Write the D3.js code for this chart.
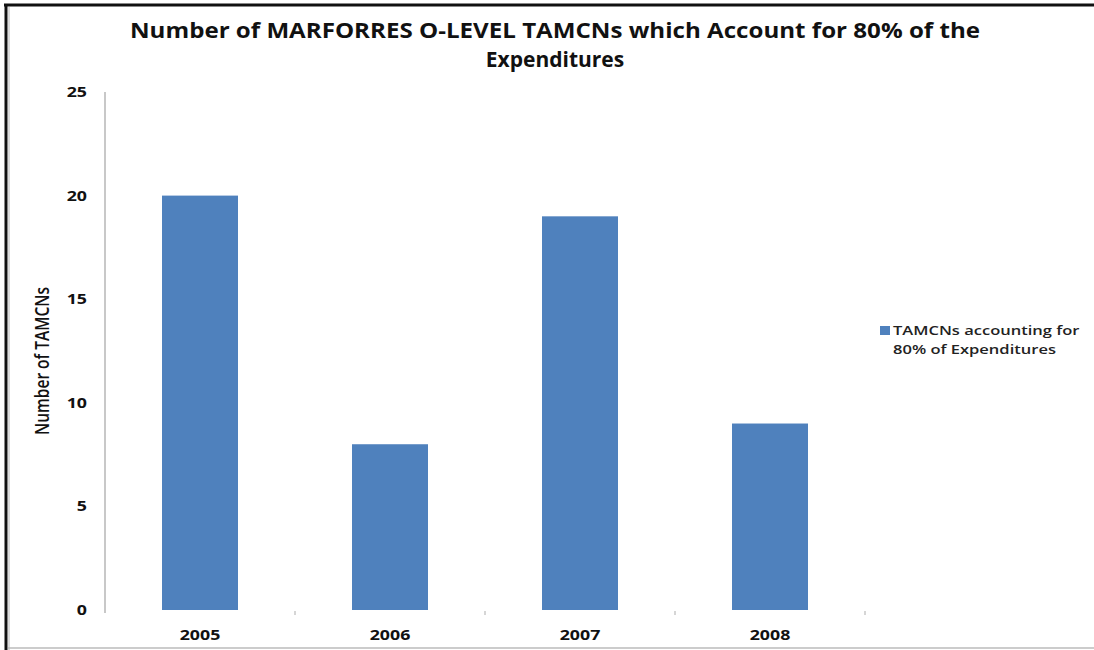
<!DOCTYPE html>
<html>
<head>
<meta charset="utf-8">
<script src="https://cdn.jsdelivr.net/npm/d3@7"></script>
<style>
  html, body { margin: 0; padding: 0; background: #fff; }
  svg { display: block; }
</style>
</head>
<body>
<svg id="chart" width="1094" height="650"></svg>
<script>
// Data
const years = ["2005", "2006", "2007", "2008"];
const tamcnCounts = [20, 8, 19, 9];
const yTicks = [0, 5, 10, 15, 20, 25];
const seriesName = ["TAMCNs accounting for", "80% of Expenditures"];
const titleLines = ["Number of MARFORRES O-LEVEL TAMCNs which Account for 80% of the", "Expenditures"];

const svg = d3.select("#chart");
const W = 1094, H = 650;
const font = "'Open Sans', 'Liberation Sans', sans-serif";
const WIDEN = 1.27; // horizontal widening applied to all labels

// Widen a text selection horizontally by a factor, keeping its anchor.
function widen(sel, k) {
  sel.each(function () {
    const n = this.getComputedTextLength();
    d3.select(this).attr("textLength", n * k).attr("lengthAdjust", "spacingAndGlyphs");
  });
}

// Frame
svg.append("rect").attr("x", 0).attr("y", 0).attr("width", W).attr("height", H).attr("fill", "#fff");
svg.append("line").attr("x1", 4).attr("x2", W).attr("y1", 5).attr("y2", 5)
  .attr("stroke", "#111").attr("stroke-width", 3);
svg.append("line").attr("x1", 6).attr("x2", 6).attr("y1", 4).attr("y2", H)
  .attr("stroke", "#111").attr("stroke-width", 3);
svg.append("line").attr("x1", 9).attr("x2", 9).attr("y1", 7).attr("y2", H)
  .attr("stroke", "#bbb").attr("stroke-width", 1);
svg.append("line").attr("x1", 8).attr("x2", W).attr("y1", 648).attr("y2", 648)
  .attr("stroke", "#bbb").attr("stroke-width", 1.5);

const plot = { left: 105, right: 865, top: 92, bottom: 610 };

const x = d3.scaleBand().domain(years).range([plot.left, plot.right])
  .paddingInner(0.6).paddingOuter(0.3);
const y = d3.scaleLinear().domain([0, 25]).range([plot.bottom, plot.top]);

// Title
const title = svg.append("g");
titleLines.forEach((t, i) => {
  title.append("text")
    .attr("x", 555).attr("y", 38 + i * 29)
    .attr("text-anchor", "middle")
    .attr("font-family", font).attr("font-weight", "bold").attr("font-size", 21)
    .attr("fill", "#111")
    .text(t);
});
title.selectAll("text").each(function (d, i) {
  const n = this.getComputedTextLength();
  d3.select(this).attr("textLength", i === 0 ? 850 : n * 850 / title.select("text").node().getComputedTextLength())
    .attr("lengthAdjust", "spacingAndGlyphs");
});

// Bars
svg.append("g").selectAll("rect").data(years).join("rect")
  .attr("x", d => x(d))
  .attr("width", x.bandwidth())
  .attr("y", (d, i) => y(tamcnCounts[i]))
  .attr("height", (d, i) => y(0) - y(tamcnCounts[i]))
  .attr("fill", "#4f81bd");

// Y axis
const yAxis = svg.append("g").attr("transform", `translate(${plot.left},0)`)
  .call(d3.axisLeft(y).tickValues(yTicks).tickSize(0).tickPadding(18));
yAxis.select(".domain").attr("stroke", "#c8c8c8").attr("stroke-width", 2)
  .attr("d", `M0,${plot.top}V${plot.bottom + 3}`);
yAxis.selectAll("text").attr("font-family", font).attr("font-weight", "bold")
  .attr("font-size", 14).attr("fill", "#111").call(widen, WIDEN);

// X axis: category labels and light separators between categories
const xAxis = svg.append("g").attr("transform", `translate(0,${plot.bottom})`)
  .call(d3.axisBottom(x).tickSize(0).tickPadding(0));
xAxis.select(".domain").remove();
xAxis.selectAll("text").attr("font-family", font).attr("font-weight", "bold")
  .attr("font-size", 14).attr("fill", "#111")
  .attr("dy", null).attr("y", 30).call(widen, WIDEN);
const step = x.step();
const seps = years.map(d => x(d) + x.bandwidth() / 2 + step / 2);
svg.append("g").selectAll("line").data(seps).join("line")
  .attr("x1", d => d).attr("x2", d => d)
  .attr("y1", plot.bottom + 1).attr("y2", plot.bottom + 5)
  .attr("stroke", "#c8c8c8").attr("stroke-width", 1.5);

// Y axis title (glyphs widened along the screen x direction)
svg.append("text")
  .attr("transform", `translate(49,${(plot.top + plot.bottom) / 2 + 10}) scale(${WIDEN},1) rotate(-90)`)
  .attr("text-anchor", "middle")
  .attr("font-family", font).attr("font-size", 15.5).attr("font-weight", 600).attr("fill", "#111")
  .text("Number of TAMCNs");

// Legend
const lg = svg.append("g").attr("transform", "translate(880,326)");
lg.append("rect").attr("width", 10).attr("height", 9).attr("fill", "#4f81bd");
lg.selectAll("text").data(seriesName).join("text")
  .attr("x", 13).attr("y", (d, i) => 9 + i * 19)
  .attr("font-family", font).attr("font-size", 13).attr("font-weight", 600).attr("fill", "#222")
  .text(d => d)
  .call(widen, WIDEN);
</script>
</body>
</html>
